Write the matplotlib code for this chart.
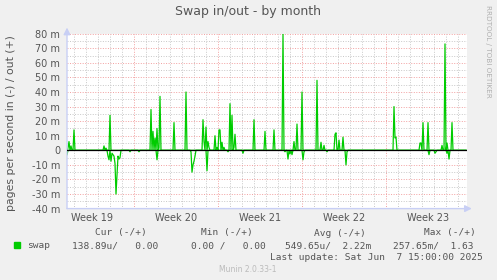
import numpy as np
import matplotlib
matplotlib.use("Agg")
import matplotlib.pyplot as plt

# Munin swap graph, one point per 2 h (400 points), values in milli-pages/s
N_POINTS = 400
out_idx = [1, 2, 4, 7, 37, 39, 43, 84, 86, 88, 90, 92, 93, 107, 119, 136, 137,
           139, 141, 142, 148, 150, 152, 153, 155, 157, 163, 165, 167, 168, 187,
           198, 207, 216, 227, 230, 235, 250, 254, 257, 268, 269, 272, 276, 327,
           328, 329, 353, 354, 356, 361, 375, 378, 380, 385]
out_val = [1.5, 6, 3, 14, 3, 1.5, 24, 28, 13, 8.5, 15, 1.6, 37, 19, 40, 21, 6,
           16, 6, 2, 10, 2, 14, 14, 5.5, 2, 32, 24, 2, 11, 21,
           13, 14, 80, 6, 18, 40, 48, 5.5, 3.4, 11, 12, 7, 9, 30,
           8.5, 9, 5, 5, 19, 19, 3.4, 73, 5, 19]
in_idx = [0, 41, 42, 44, 45, 46, 47, 48, 49, 50, 51, 52, 53, 63, 72, 90, 124,
          125, 126, 127, 128, 140, 161, 176, 218, 221, 223, 225, 236, 237, 260,
          279, 280, 362, 368, 369, 380, 382]
in_val = [3, 4, 6.5, 7.5, 2, 3, 4, 9, 30, 17, 4, 6, 5, 1, 1, 6.5, 1,
          15, 10, 7.5, 4, 14, 1, 2, 1, 6, 2.5, 3, 6.5, 1, 1,
          10, 1, 3, 2, 1, 2, 6]

y_ticks = [80, 70, 60, 50, 40, 30, 20, 10, 0, -10, -20, -30, -40]
week_labels = ["Week 19", "Week 20", "Week 21", "Week 22", "Week 23"]
first_monday = 67          # index of first week boundary in the window
day_len = 12               # points per day
week_len = 84              # points per week

legend_cols = ["Cur (-/+)", "Min (-/+)", "Avg (-/+)", "Max (-/+)"]
legend_vals = ["138.89u/   0.00", "0.00 /   0.00", "549.65u/  2.22m", "257.65m/  1.63"]
last_update = "Last update: Sat Jun  7 15:00:00 2025"

GREEN = "#00CC00"
TEXT = "#555555"
AXIS = "#C8CFF5"
W, H = 497, 280

out_series = np.zeros(N_POINTS)
out_series[out_idx] = out_val
in_series = np.zeros(N_POINTS)
in_series[in_idx] = in_val

fig = plt.figure(figsize=(W / 100, H / 100), dpi=100, facecolor="#F0F0F0")


def px(x, y):
    return x / W, 1 - y / H


ax = fig.add_axes([67 / W, (H - 208.6) / H, 400 / W, (208.6 - 33.7) / H])
ax.set_facecolor("white")
ax.set_xlim(0, N_POINTS)
ax.set_ylim(-40, 80)
for s in ax.spines.values():
    s.set_visible(False)

# grid: minor every day / 5 m, major every week / 10 m
days = np.arange(first_monday % day_len, N_POINTS, day_len)
weeks = np.arange(first_monday, N_POINTS, week_len)
for d in days:
    if d not in weeks:
        ax.axvline(d, color="#C8C8C8", lw=0.7, ls=(0, (1, 1.6)), zorder=1)
for w in weeks:
    ax.axvline(w, color="#F2A0A0", lw=0.7, ls=(0, (1, 1.6)), zorder=1)
for v in np.arange(-35, 80, 10):
    ax.axhline(v, color="#C8C8C8", lw=0.7, ls=(0, (1, 1.6)), zorder=1)
for v in y_ticks:
    if v != 0:
        ax.axhline(v, color="#F2A0A0", lw=0.7, ls=(0, (1, 1.6)), zorder=1)

x = np.arange(N_POINTS)
ax.plot(x, out_series, color=GREEN, lw=0.9, zorder=3)
ax.plot(x, -in_series, color=GREEN, lw=0.9, zorder=3)
ax.axhline(0, color="black", lw=0.9, zorder=4)

ax.set_yticks(y_ticks)
ax.set_yticklabels([f"{v} m" if v != 0 else "0" for v in y_ticks])
label_pos = [first_monday - week_len // 2 + week_len * k for k in range(len(week_labels))]
ax.set_xticks(label_pos)
ax.set_xticklabels(week_labels)
ax.tick_params(axis="both", length=0, labelsize=7, colors=TEXT)
ax.tick_params(axis="y", pad=5)
ax.tick_params(axis="x", pad=3)

# axis lines with arrows
ax.annotate("", xy=(0, 1.035), xytext=(0, 0), xycoords="axes fraction",
            arrowprops=dict(arrowstyle="-|>,head_length=0.4,head_width=0.2",
                            color=AXIS, lw=1, shrinkA=0, shrinkB=0))
ax.annotate("", xy=(1.012, 0), xytext=(0, 0), xycoords="axes fraction",
            arrowprops=dict(arrowstyle="-|>,head_length=0.4,head_width=0.2",
                            color=AXIS, lw=1, shrinkA=0, shrinkB=0))

fig.text(*px(248, 12), "Swap in/out - by month", ha="center", va="center",
         fontsize=9, color=TEXT)
fig.text(*px(11, 123), "pages per second in (-) / out (+)", rotation=90,
         ha="center", va="center", fontsize=7.8, color=TEXT)
fig.text(*px(488, 5), "RRDTOOL / TOBI OETIKER", rotation=-90, ha="center",
         va="top", fontsize=5.2, color="#B0B0B0")

# legend
mono = dict(family="DejaVu Sans Mono", fontsize=6.8, color=TEXT, va="center")
fig.patches.append(plt.Rectangle(px(14, 248), 6 / W, 6 / H, color=GREEN,
                                 transform=fig.transFigure))
fig.text(*px(27, 246), "swap", ha="left", **mono)
for label, cx in zip(legend_cols, [121, 227, 340, 450]):
    fig.text(*px(cx, 233), label, ha="center", **mono)
for val, x0 in zip(legend_vals, [72, 191, 285, 393]):
    fig.text(*px(x0, 246), val, ha="left", **mono)
fig.text(*px(483, 258), last_update, ha="right", **mono)
fig.text(*px(248, 269), "Munin 2.0.33-1", ha="center", va="center",
         fontsize=5.5, color="#BBBBBB")

fig.savefig("out.png", dpi=100, facecolor=fig.get_facecolor())
